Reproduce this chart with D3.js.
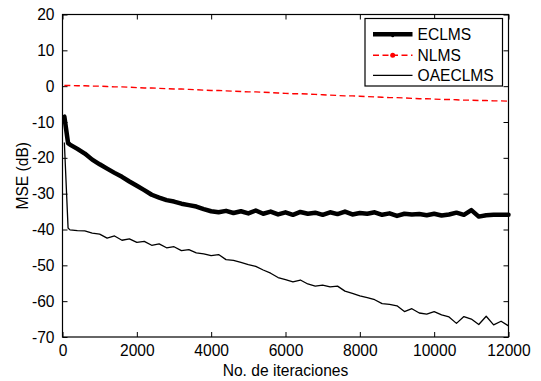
<!DOCTYPE html>
<html><head><meta charset="utf-8">
<script src="https://cdn.jsdelivr.net/npm/d3@7"></script>
<style>
body{margin:0;background:#fff;}
svg text{font-family:"Liberation Sans",Arial,Helvetica,sans-serif;fill:#000;}
</style></head>
<body><svg id="c" width="541" height="381"></svg>
<script>
const iterations = [50,150,200,400,600,800,1000,1200,1400,1600,1800,2000,2200,2400,2600,2800,3000,3200,3400,3600,3800,4000,
4200,4400,4600,4800,5000,5200,5400,5600,5800,6000,6200,6400,6600,6800,7000,7200,7400,7600,7800,8000,
8200,8400,8600,8800,9000,9200,9400,9600,9800,10000,10200,10400,10600,10800,11000,11200,11400,11600,11800,12000];
const eclms = [-8.5,-15.9,-16.3,-17.5,-18.8,-20.5,-21.8,-23.0,-24.2,-25.3,-26.6,-27.8,-29.0,-30.3,-31.1,-31.8,-32.2,-32.8,-33.2,-33.6,-34.3,-34.9,
-35.2,-34.8,-35.4,-34.9,-35.5,-34.7,-35.6,-35.0,-35.8,-35.2,-35.9,-35.1,-35.6,-35.3,-35.9,-35.2,-35.7,-35.0,-35.8,-35.4,
-35.6,-35.2,-35.9,-35.5,-36.2,-35.6,-35.8,-35.7,-36.0,-35.6,-36.1,-35.8,-35.3,-35.9,-34.6,-36.4,-36.0,-35.9,-35.9,-35.9];
const nlms = [0.2,0.2,0.2,0.1,0.1,0.0,0.0,-0.1,-0.2,-0.2,-0.3,-0.4,-0.5,-0.5,-0.6,-0.7,-0.8,-0.8,-0.9,-1.0,-1.1,-1.2,
-1.2,-1.3,-1.4,-1.5,-1.6,-1.6,-1.7,-1.8,-1.9,-2.0,-2.1,-2.1,-2.2,-2.3,-2.4,-2.5,-2.6,-2.7,-2.7,-2.8,
-2.9,-3.0,-3.1,-3.2,-3.2,-3.3,-3.4,-3.5,-3.5,-3.6,-3.7,-3.7,-3.8,-3.9,-3.9,-4.0,-4.0,-4.1,-4.1,-4.2];
const oaeclms = [-15.7,-39.6,-40.1,-40.3,-40.4,-41.0,-41.3,-42.4,-41.8,-43.0,-42.6,-43.6,-43.3,-44.4,-44.0,-45.1,-44.8,-45.9,-45.6,-46.5,-46.8,-47.3,
-47.0,-48.4,-48.6,-49.2,-49.8,-50.3,-51.3,-52.2,-53.4,-54.0,-54.6,-54.1,-55.2,-55.8,-55.5,-56.0,-55.8,-57.2,-57.8,-58.5,
-59.0,-59.6,-60.7,-60.9,-61.3,-62.9,-62.1,-63.3,-63.6,-62.9,-63.8,-64.4,-66.2,-64.3,-65.0,-66.5,-64.2,-66.6,-65.6,-66.9];
const xTicks = [0,2000,4000,6000,8000,10000,12000];
const yTicks = [20,10,0,-10,-20,-30,-40,-50,-60,-70];
const seriesNames = ["ECLMS","NLMS","OAECLMS"];
const xLabel = "No. de iteraciones";
const yLabel = "MSE (dB)";

const svg = d3.select("#c");
const L = 62.5, R = 508.5, T = 14.5, B = 337;
const fs = "15.6px";
const x = d3.scaleLinear().domain([0,12000]).range([L,R]);
const y = d3.scaleLinear().domain([-70,20]).range([B,T]);

const g = svg.append("g");
const axB = g.append("g").attr("transform",`translate(0,${B})`).call(d3.axisBottom(x).tickValues(xTicks).tickSizeInner(-5).tickSizeOuter(0).tickPadding(8).tickFormat(d3.format("d")));
const axT = g.append("g").attr("transform",`translate(0,${T})`).call(d3.axisTop(x).tickValues(xTicks).tickSizeInner(-5).tickSizeOuter(0).tickFormat(""));
const axL = g.append("g").attr("transform",`translate(${L},0)`).call(d3.axisLeft(y).tickValues(yTicks).tickSizeInner(-5).tickSizeOuter(0).tickPadding(8).tickFormat(d3.format("d")));
const axR = g.append("g").attr("transform",`translate(${R},0)`).call(d3.axisRight(y).tickValues(yTicks).tickSizeInner(-5).tickSizeOuter(0).tickFormat(""));
g.selectAll(".domain").remove();
g.selectAll(".tick line").attr("stroke","#000").attr("stroke-width",1);
g.selectAll(".tick text").style("font-size",fs).attr("fill","#000");
axL.selectAll(".tick text").text(d=>d<0?"-"+Math.abs(d):d);

const pts = iterations.map((it,i)=>({it,e:eclms[i],n:nlms[i],o:oaeclms[i]}));
const line = k => d3.line().x(d=>x(d.it)).y(d=>y(d[k]));

svg.append("path").datum(pts).attr("d",line("n")).attr("fill","none").attr("stroke","#ff0000").attr("stroke-width",1.4).attr("stroke-dasharray","6,3.5");
svg.append("path").datum(pts).attr("d",line("e")).attr("fill","none").attr("stroke","#000").attr("stroke-width",4.5).attr("stroke-linejoin","round").attr("stroke-linecap","round");
svg.append("path").datum(pts).attr("d",line("o")).attr("fill","none").attr("stroke","#000").attr("stroke-width",1.3).attr("stroke-linejoin","round");

svg.append("rect").attr("x",L).attr("y",T).attr("width",R-L).attr("height",B-T).attr("fill","none").attr("stroke","#000").attr("stroke-width",1.2);

const lg = svg.append("g");
lg.append("rect").attr("x",365).attr("y",18.5).attr("width",137.5).attr("height",67.5).attr("fill","#fff").attr("stroke","#000").attr("stroke-width",1.2);
const ly = [34.3,55.3,75.3];
const styles = [
 {stroke:"#000",w:4.5,dash:null,marker:"#000",mr:1.5},
 {stroke:"#ff0000",w:1.4,dash:"6,3.5",marker:"#ff0000",mr:2.5},
 {stroke:"#000",w:1.3,dash:null,marker:null,mr:0}
];
seriesNames.forEach((nm,i)=>{
  const s = styles[i];
  const l = lg.append("line").attr("x1",373).attr("x2",412.5).attr("y1",ly[i]).attr("y2",ly[i]).attr("stroke",s.stroke).attr("stroke-width",s.w);
  if(s.dash) l.attr("stroke-dasharray",s.dash);
  if(s.marker) lg.append("circle").attr("cx",392.7).attr("cy",ly[i]+ (i===0?1.5:0)).attr("r",s.mr).attr("fill",s.marker);
  lg.append("text").attr("x",417.5).attr("y",ly[i]).attr("dy","0.36em").style("font-size",fs).text(nm);
});

svg.append("text").attr("x",(L+R)/2).attr("y",370).attr("dy","0.36em").attr("text-anchor","middle").style("font-size",fs).text(xLabel);
svg.append("text").attr("transform",`translate(22,${(T+B)/2}) rotate(-90)`).attr("dy","0.36em").attr("text-anchor","middle").style("font-size",fs).text(yLabel);
</script></body></html>
